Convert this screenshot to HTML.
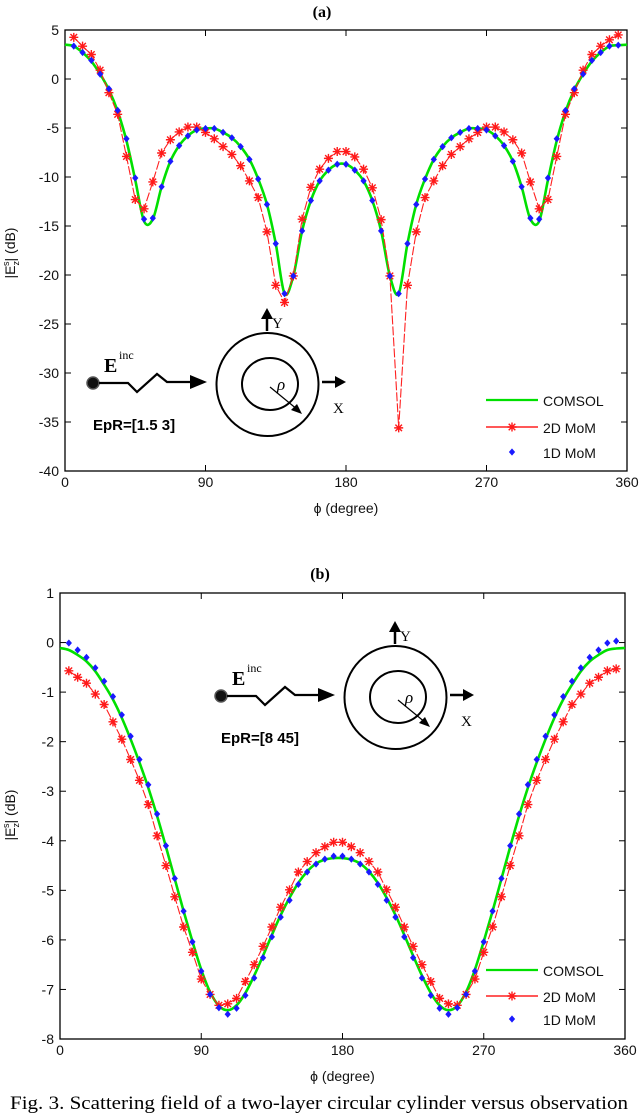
<!DOCTYPE html>
<html><head><meta charset="utf-8"><style>
html,body{margin:0;padding:0;background:#fff;}
svg{display:block;font-family:"Liberation Sans",sans-serif;}
.tk{font-size:14px;fill:#111;}
.serif{font-family:"Liberation Serif",serif;}
</style></head><body>
<svg id="fig" width="640" height="1114" viewBox="0 0 640 1114">
<text x="322" y="17" text-anchor="middle" class="serif" font-weight="bold" font-size="16">(a)</text>
<text x="320" y="579" text-anchor="middle" class="serif" font-weight="bold" font-size="16">(b)</text>
<g id="chartA"></g>
<g id="chartB"></g>
<g id="insetA"></g>
<g id="insetB" transform="translate(128,313)"></g>
<text x="10" y="1109" class="serif" font-size="19" textLength="618" lengthAdjust="spacingAndGlyphs">Fig. 3.  Scattering field of a two-layer circular cylinder versus observation</text>
</svg>
<script>
// ---- data (angle step 5.625 deg) ----
const xTicks = [0, 90, 180, 270, 360];
const yTicksA = [5, 0, -5, -10, -15, -20, -25, -30, -35, -40];
const yTicksB = [1, 0, -1, -2, -3, -4, -5, -6, -7, -8];
const comsolA = [3.5,3.35,2.7,1.8,0.5,-1.1,-3.3,-6.3,-10.3,-14.5,-14.3,-11.0,-8.4,-6.8,-5.8,-5.2,-5.05,-5.05,-5.45,-6.0,-6.9,-8.2,-10.2,-12.8,-16.8,-21.9,-20.1,-15.5,-12.4,-10.4,-9.3,-8.7,-8.7,-9.3,-10.4,-12.4,-15.5,-20.1,-21.9,-16.8,-12.8,-10.2,-8.2,-6.9,-6.0,-5.45,-5.05,-5.05,-5.2,-5.8,-6.8,-8.4,-11.0,-14.3,-14.5,-10.3,-6.3,-3.3,-1.1,0.5,1.8,2.7,3.35,3.45,3.5];
const mom1dA = [3.35,2.7,1.9,0.5,-1.0,-3.2,-6.1,-10.1,-14.3,-14.2,-11.0,-8.4,-6.8,-5.8,-5.2,-5.05,-5.05,-5.45,-6.0,-6.9,-8.2,-10.2,-12.8,-16.8,-21.9,-20.1,-15.5,-12.4,-10.4,-9.3,-8.7,-8.7,-9.3,-10.4,-12.4,-15.5,-20.1,-21.9,-16.8,-12.8,-10.2,-8.2,-6.9,-6.0,-5.45,-5.05,-5.05,-5.2,-5.8,-6.8,-8.4,-11.0,-14.2,-14.3,-10.1,-6.1,-3.2,-1.0,0.5,1.9,2.7,3.35,3.45];
const mom2dA = [4.25,3.35,2.5,0.9,-1.4,-3.6,-7.9,-12.3,-13.25,-10.5,-7.55,-6.2,-5.4,-4.9,-4.9,-5.45,-6.1,-6.9,-7.7,-8.85,-10.4,-12.1,-15.6,-21.05,-22.8,-20.1,-14.3,-11.05,-9.2,-8.1,-7.4,-7.4,-7.95,-9.2,-11.1,-14.35,-20.1,-35.6,-21.05,-15.6,-12.1,-10.4,-8.85,-7.7,-6.9,-6.1,-5.45,-4.9,-4.9,-5.4,-6.2,-7.55,-10.5,-13.25,-12.3,-7.9,-3.6,-1.4,0.9,2.5,3.35,4.0,4.5];
const comsolB = [-0.11,-0.15,-0.25,-0.38,-0.58,-0.85,-1.15,-1.52,-1.95,-2.42,-2.93,-3.5,-4.12,-4.77,-5.42,-6.03,-6.6,-7.05,-7.33,-7.42,-7.32,-7.07,-6.72,-6.32,-5.9,-5.5,-5.15,-4.85,-4.62,-4.46,-4.38,-4.35,-4.35,-4.38,-4.46,-4.62,-4.85,-5.15,-5.5,-5.9,-6.32,-6.72,-7.07,-7.32,-7.42,-7.33,-7.05,-6.6,-6.03,-5.42,-4.77,-4.12,-3.5,-2.93,-2.42,-1.95,-1.52,-1.15,-0.85,-0.58,-0.38,-0.25,-0.15,-0.12,-0.11];
const mom1dB = [-0.01,-0.15,-0.3,-0.51,-0.78,-1.09,-1.46,-1.89,-2.36,-2.87,-3.46,-4.1,-4.76,-5.42,-6.04,-6.63,-7.1,-7.37,-7.5,-7.38,-7.12,-6.77,-6.36,-5.94,-5.54,-5.2,-4.88,-4.63,-4.47,-4.37,-4.31,-4.31,-4.37,-4.47,-4.63,-4.88,-5.2,-5.54,-5.94,-6.36,-6.77,-7.12,-7.38,-7.5,-7.37,-7.1,-6.63,-6.04,-5.42,-4.76,-4.1,-3.46,-2.87,-2.36,-1.89,-1.46,-1.09,-0.78,-0.51,-0.3,-0.15,-0.01,0.03];
const mom2dB = [-0.57,-0.7,-0.82,-1.04,-1.25,-1.6,-1.95,-2.36,-2.78,-3.27,-3.9,-4.5,-5.13,-5.74,-6.25,-6.79,-7.1,-7.32,-7.29,-7.18,-6.84,-6.5,-6.13,-5.74,-5.34,-4.99,-4.63,-4.42,-4.24,-4.12,-4.03,-4.03,-4.12,-4.24,-4.42,-4.63,-4.99,-5.34,-5.74,-6.13,-6.5,-6.84,-7.18,-7.29,-7.32,-7.1,-6.79,-6.25,-5.74,-5.13,-4.5,-3.9,-3.27,-2.78,-2.36,-1.95,-1.6,-1.25,-1.04,-0.82,-0.7,-0.57,-0.53];
const angleStep = 5.625;

const NS = "http://www.w3.org/2000/svg";
function mk(tag, attrs, parent){const e=document.createElementNS(NS,tag);for(const k in attrs)e.setAttribute(k,attrs[k]);parent.appendChild(e);return e;}

function smooth(pts){let d="M"+pts[0][0]+","+pts[0][1];for(let i=0;i<pts.length-1;i++){const p0=pts[i-1]||pts[i],p1=pts[i],p2=pts[i+1],p3=pts[i+2]||p2;
d+=" C"+(p1[0]+(p2[0]-p0[0])/6)+","+(p1[1]+(p2[1]-p0[1])/6)+" "+(p2[0]-(p3[0]-p1[0])/6)+","+(p2[1]-(p3[1]-p1[1])/6)+" "+p2[0]+","+p2[1];}return d;}

function star(g,x,y){const r=4.5,s=3.3;
mk("path",{d:`M${x-r},${y}H${x+r}M${x},${y-r}V${y+r}M${x-s},${y-s}L${x+s},${y+s}M${x-s},${y+s}L${x+s},${y-s}`,stroke:"#ff1a1a","stroke-width":1.4,fill:"none"},g);}
function dot(g,x,y){mk("path",{d:`M${x},${y-3}L${x+2.6},${y}L${x},${y+3}L${x-2.6},${y}Z`,fill:"#1a1aff",stroke:"#1a1aff","stroke-width":0.8},g);}

function chart(g, L, R, T, B, ymax, ymin, yTicks, comsol, m1, m2, legY, labelY, ylabCenter){
  const sx=v=>L+(v/360)*(R-L), sy=v=>T+(ymax-v)/(ymax-ymin)*(B-T);
  // axes box
  const box=mk("rect",{x:L,y:T,width:R-L,height:B-T,fill:"none",stroke:"#000","stroke-width":1.3},g);
  
  
  xTicks.forEach(t=>{
    mk("line",{x1:sx(t),x2:sx(t),y1:B,y2:B-6,stroke:"#000"},g);
    mk("line",{x1:sx(t),x2:sx(t),y1:T,y2:T+6,stroke:"#000"},g);
    const tx=mk("text",{x:sx(t),y:labelY,"text-anchor":"middle",class:"tk"},g);tx.textContent=t;
    
    
  });
  yTicks.forEach(t=>{
    mk("line",{x1:L,x2:L+6,y1:sy(t),y2:sy(t),stroke:"#000"},g);
    mk("line",{x1:R,x2:R-6,y1:sy(t),y2:sy(t),stroke:"#000"},g);
    const ty=mk("text",{x:L-6,y:sy(t)+5,"text-anchor":"end",class:"tk"},g);ty.textContent=t;
    
    
  });
  // series
  const gp=comsol.map((v,i)=>[sx(i*angleStep),sy(v)]);
  const gl=mk("path",{d:smooth(gp),fill:"none",stroke:"#00e000","stroke-width":2.6},g);
  
  
  const rp=m2.map((v,i)=>[sx((i+1)*angleStep),sy(v)]);
  const rl=mk("path",{d:"M"+rp.map(p=>p.join(",")).join("L"),fill:"none",stroke:"#ff2020","stroke-width":1.1,"stroke-dasharray":"9,2"},g);
  
  
  const rg=mk("g",{},g);
  
  
  rp.forEach(p=>star(rg,p[0],p[1]));
  const bg=mk("g",{},g);
  
  
  m1.forEach((v,i)=>dot(bg,sx((i+1)*angleStep),sy(v)));
  // legend
  const lg=mk("g",{},g);
  
  
  mk("line",{x1:486,x2:538,y1:legY[0],y2:legY[0],stroke:"#00e000","stroke-width":2.2},lg);
  mk("line",{x1:486,x2:538,y1:legY[1],y2:legY[1],stroke:"#ff2020","stroke-width":1.4},lg);
  star(lg,512,legY[1]); dot(lg,512,legY[2]);
  ["COMSOL","2D MoM","1D MoM"].forEach((s,i)=>{const t=mk("text",{x:543,y:legY[i]+6,class:"tk","font-size":"15"},lg);t.textContent=s;
    
    });
  // axis labels
  const xl=mk("text",{x:(L+R)/2,y:labelY+26,"text-anchor":"middle",class:"tk"},g);
  xl.textContent="\u03D5 (degree)";
  
  
  const yl=mk("text",{x:0,y:0,transform:`translate(15,${ylabCenter}) rotate(-90)`,"text-anchor":"middle",class:"tk","font-size":"13"},g);
  yl.innerHTML='|E<tspan font-size="9" dy="4">z</tspan><tspan font-size="9" dx="-5" dy="-10">s</tspan><tspan dy="6">| (dB)</tspan>';
  
  
}
chart(document.getElementById("chartA"),65,627,30,471,5,-40,yTicksA,comsolA,mom1dA,mom2dA,[400,427,452],487,253);
chart(document.getElementById("chartB"),60,625,593,1039,1,-8,yTicksB,comsolB,mom1dB,mom2dB,[970,996,1019],1055,815);

function inset(g, label){
  mk("circle",{cx:93,cy:383,r:6,fill:"#111",stroke:"#555","stroke-width":1.5},g);
  mk("path",{d:"M99,383H128L137,392L157,374L167,382H192",fill:"none",stroke:"#000","stroke-width":2.2},g);
  mk("path",{d:"M190,375L207,382L190,389Z",fill:"#000"},g);
  const e=mk("text",{x:104,y:372,class:"serif","font-weight":"bold","font-size":"20"},g);e.textContent="E";
  const inc=mk("text",{x:119,y:359,class:"serif","font-size":"12"},g);inc.textContent="inc";
  const ep=mk("text",{x:93,y:430,"font-weight":"bold","font-size":"15"},g);ep.textContent=label;
  
  
  mk("ellipse",{cx:267.5,cy:384.5,rx:51,ry:51.5,fill:"none",stroke:"#000","stroke-width":2},g);
  mk("ellipse",{cx:270,cy:384,rx:28,ry:26,fill:"none",stroke:"#000","stroke-width":2},g);
  mk("line",{x1:270,y1:387,x2:298,y2:410,stroke:"#000","stroke-width":1.2},g);
  mk("path",{d:"M302,414L291,410L297,404Z",fill:"#000"},g);
  const rho=mk("text",{x:277,y:390,class:"serif","font-style":"italic","font-size":"17"},g);rho.textContent="\u03C1";
  mk("line",{x1:267,y1:331,x2:267,y2:318,stroke:"#000","stroke-width":2.5},g);
  mk("path",{d:"M261,319L267,308L273,319Z",fill:"#000"},g);
  const y=mk("text",{x:272,y:328,class:"serif","font-size":"15"},g);y.textContent="Y";
  mk("line",{x1:322,y1:382,x2:336,y2:382,stroke:"#000","stroke-width":2.5},g);
  mk("path",{d:"M335,376L346,382L335,388Z",fill:"#000"},g);
  const x=mk("text",{x:333,y:413,class:"serif","font-size":"15"},g);x.textContent="X";
}
inset(document.getElementById("insetA"),"EpR=[1.5  3]");
inset(document.getElementById("insetB"),"EpR=[8 45]");
</script>
</body></html>
